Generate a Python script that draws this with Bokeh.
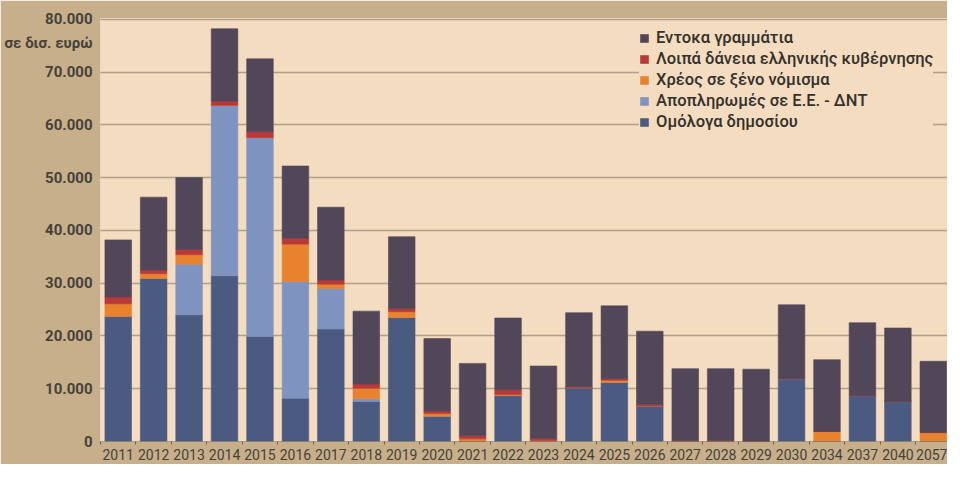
from bokeh.plotting import figure
from bokeh.models import Range1d, FixedTicker, Legend, LegendItem
from bokeh.embed import file_html
from bokeh.resources import INLINE

years = ["2011", "2012", "2013", "2014", "2015", "2016", "2017", "2018", "2019", "2020",
         "2021", "2022", "2023", "2024", "2025", "2026", "2027", "2028", "2029", "2030",
         "2034", "2037", "2040", "2057"]

# values in million euro
omologa = [23700, 30900, 24000, 31400, 19900, 8200, 21300, 7600, 23500, 4800,
           0, 8700, 0, 10200, 11200, 6700, 0, 0, 0, 11900,
           0, 8700, 7600, 0]
apoplirwmes = [0, 0, 9600, 32300, 37700, 22100, 7700, 500, 0, 0,
               0, 0, 0, 0, 0, 0, 0, 0, 0, 0,
               0, 0, 0, 0]
xeno = [2400, 900, 1800, 0, 0, 7100, 800, 2000, 1100, 500,
        500, 200, 200, 0, 400, 0, 0, 0, 0, 0,
        1900, 0, 0, 1700]
loipa = [1300, 700, 1000, 800, 1100, 1100, 800, 800, 600, 500,
         600, 900, 400, 200, 300, 300, 200, 200, 0, 0,
         0, 0, 0, 0]
entoka = [10800, 13800, 13600, 13700, 13800, 13700, 13800, 13800, 13600, 13700,
          13700, 13600, 13700, 14000, 13800, 13900, 13600, 13600, 13700, 14000,
          13600, 13800, 13900, 13500]

series_names = ["Ομόλογα δημοσίου", "Αποπληρωμές σε Ε.Ε. - ΔΝΤ", "Χρέος σε ξένο νόμισμα",
                "Λοιπά δάνεια ελληνικής κυβέρνησης", "Εντοκα γραμμάτια"]
series_keys = ["omologa", "apoplirwmes", "xeno", "loipa", "entoka"]
colors = ["#4b5a80", "#7e93bf", "#e7832e", "#b7393a", "#524659"]

y_ticks = [0, 10000, 20000, 30000, 40000, 50000, 60000, 70000, 80000]
y_tick_labels = ["0", "10.000", "20.000", "30.000", "40.000", "50.000", "60.000", "70.000", "80.000"]
unit_label = "σε δισ. ευρώ"
unit_label_pos = 75500

FONT = "'Liberation Sans Narrow', 'Roboto', sans-serif"
LEGEND_FONT = "'Roboto Medium', 'Roboto', sans-serif"
TEXT = "#46423a"

xs = list(range(len(years)))
data = dict(x=xs, omologa=omologa, apoplirwmes=apoplirwmes, xeno=xeno, loipa=loipa, entoka=entoka)

p = figure(width=947, height=464, output_backend="svg", toolbar_location=None,
           x_range=Range1d(-0.5, 23.4), y_range=Range1d(0, 80150),
           min_border_left=100, min_border_right=0, min_border_top=18, min_border_bottom=23)

p.background_fill_color = "#f3dcc0"
p.border_fill_color = "#c7af8b"
p.outline_line_color = None

renderers = p.vbar_stack(series_keys, x="x", width=0.75, source=data, color=colors,
                         line_width=0.6)

# x axis
p.xaxis.ticker = FixedTicker(ticks=xs, minor_ticks=[i + 0.5 for i in xs[:-1]] + [-0.5])
p.xaxis.major_label_overrides = {i: y for i, y in enumerate(years)}
p.xaxis.major_tick_line_color = None
p.xaxis.major_tick_out = 0
p.xaxis.major_tick_in = 0
p.xaxis.minor_tick_line_color = "#6b6250"
p.xaxis.minor_tick_out = 3
p.xaxis.minor_tick_in = 0
p.xaxis.axis_line_color = "#6b6250"
p.xaxis.axis_line_width = 1.2
p.xaxis.axis_line_dash = "1 1"
p.xaxis.major_label_text_font = FONT
p.xaxis.major_label_text_font_size = "14px"
p.xaxis.major_label_text_color = TEXT
p.xaxis.major_label_standoff = 4

# y axis (unit note shown as an extra label on the axis)
p.yaxis.ticker = FixedTicker(ticks=y_ticks + [unit_label_pos])
overrides = {t: l for t, l in zip(y_ticks, y_tick_labels)}
overrides[unit_label_pos] = unit_label
p.yaxis.major_label_overrides = overrides
p.yaxis.axis_line_color = None
p.yaxis.major_tick_line_color = None
p.yaxis.major_tick_out = 0
p.yaxis.major_tick_in = 0
p.yaxis.minor_tick_line_color = None
p.yaxis.major_label_text_font = FONT
p.yaxis.major_label_text_font_size = "15px"
p.yaxis.major_label_text_font_style = "bold"
p.yaxis.major_label_text_color = TEXT
p.yaxis.major_label_standoff = 8

p.xgrid.grid_line_color = None
p.ygrid.ticker = FixedTicker(ticks=y_ticks)
p.ygrid.grid_line_color = "#6e6452"
p.ygrid.grid_line_width = 1.5
p.ygrid.grid_line_dash = "1 1"

items = [LegendItem(label=n, renderers=[r]) for n, r in zip(series_names, renderers)][::-1]
legend = Legend(items=items, location=(539, 309), orientation="vertical",
                background_fill_color="#f3dcc0", background_fill_alpha=1.0,
                border_line_color=None, padding=6, spacing=0, margin=0,
                label_height=21, glyph_height=10, glyph_width=10, label_standoff=7,
                label_text_font=LEGEND_FONT, label_text_font_size="16.5px",
                label_text_color="#34312c")
p.add_layout(legend)

open("out.html", "w").write(file_html(p, INLINE))
